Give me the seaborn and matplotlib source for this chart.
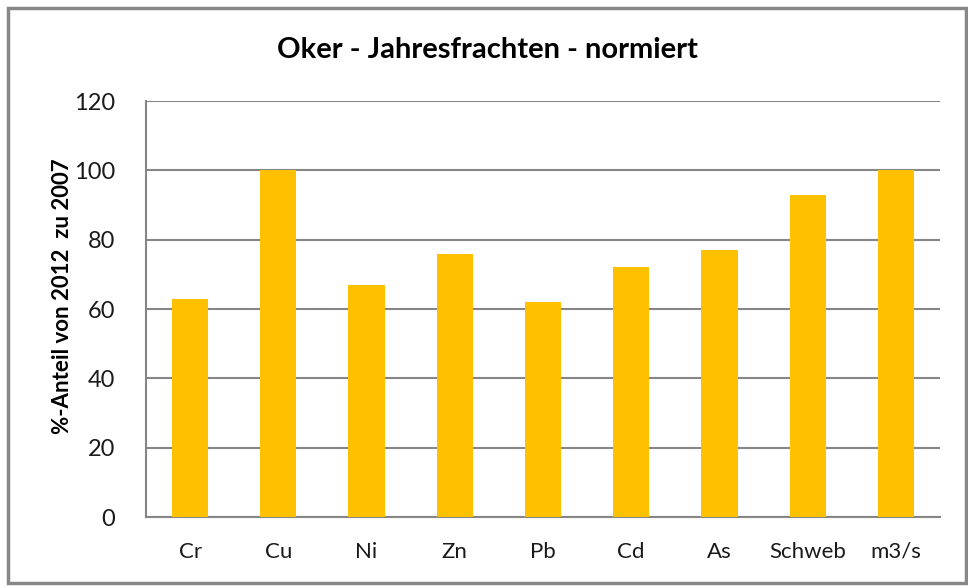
import matplotlib
matplotlib.use("Agg")
import matplotlib.pyplot as plt
import seaborn as sns
import pandas as pd
from matplotlib.patches import Rectangle

categories = ["Cr", "Cu", "Ni", "Zn", "Pb", "Cd", "As", "Schweb", "m3/s"]
values = [63, 100, 67, 76, 62, 72, 77, 93, 100]
yticks = [0, 20, 40, 60, 80, 100, 120]

sns.set_theme(style="white")
plt.rcParams["font.family"] = ["Lato", "DejaVu Sans"]

df = pd.DataFrame({"cat": categories, "val": values})

fig = plt.figure(figsize=(9.68, 5.88), dpi=100)
ax = fig.add_axes([146/968, 71/588, (940-146)/968, (517-101)/588])

sns.barplot(data=df, x="cat", y="val", color="#FFC000", saturation=1,
            width=0.41, ax=ax, zorder=3, linewidth=0, edgecolor="none")

ax.set_ylim(0, 120)
ax.set_yticks(yticks)
ax.set_yticklabels([str(t) for t in yticks], fontsize=17, color="#1a1a1a")
ax.tick_params(axis="x", labelsize=16, colors="#1a1a1a", length=0, pad=18)
ax.tick_params(axis="y", length=0, pad=22)
ax.yaxis.grid(True, color="#868686", linewidth=1.5, zorder=0)
ax.set_axisbelow(True)
ax.set_xlabel("")
ax.set_ylabel("%-Anteil von 2012  zu 2007", fontsize=16, fontweight="bold",
              color="#000000")
ax.yaxis.set_label_coords(-0.092, 0.53)
for s in ["top", "right"]:
    ax.spines[s].set_visible(False)
ax.spines["left"].set_color("#868686")
ax.spines["bottom"].set_color("#868686")
ax.spines["left"].set_linewidth(1.5)
ax.spines["bottom"].set_linewidth(1.5)

fig.text(487/968, 1 - 50/588, "Oker - Jahresfrachten - normiert", ha="center",
         va="center", fontsize=21, fontweight="bold", color="#000000")

fig.patches.append(Rectangle((8/968, 5/588), 958/968, 575/588,
                             transform=fig.transFigure, fill=False,
                             edgecolor="#878787", linewidth=2.5))

fig.savefig("out.png", dpi=100, facecolor="white")
